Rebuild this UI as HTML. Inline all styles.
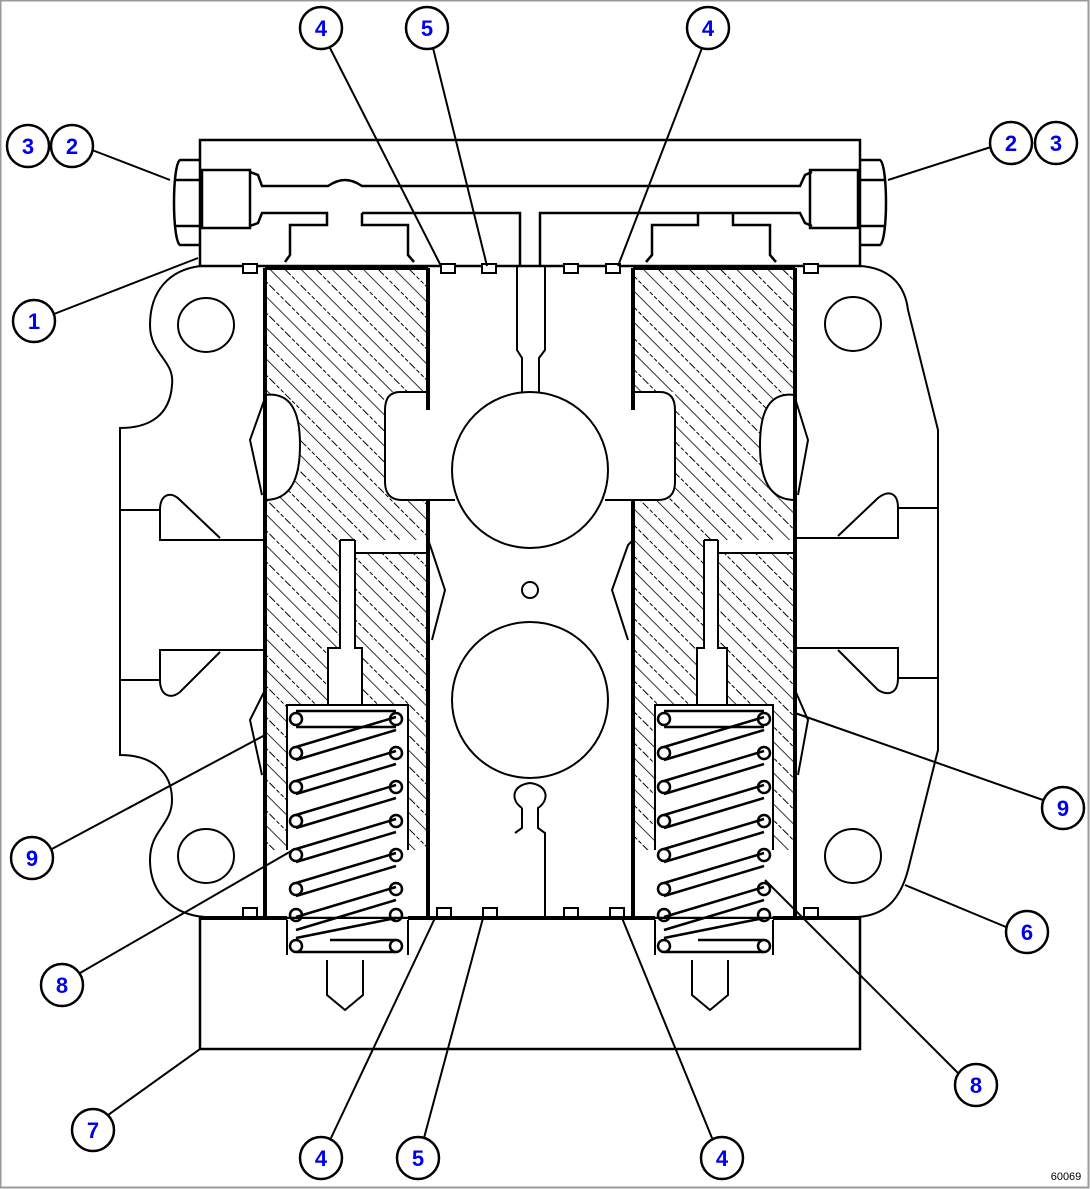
<!DOCTYPE html>
<html><head><meta charset="utf-8"><style>
html,body{margin:0;padding:0;background:#fff;}
svg{display:block;}
text{font-family:"Liberation Sans",sans-serif;font-weight:bold;font-size:22px;fill:#0000ee;text-anchor:middle;}
</style></head><body>
<svg width="1090" height="1189" viewBox="0 0 1090 1189" xmlns="http://www.w3.org/2000/svg">
<defs>
<pattern id="h" patternUnits="userSpaceOnUse" width="22" height="22" patternTransform="rotate(-45)">
<line x1="0" y1="0" x2="0" y2="22" stroke="#000" stroke-width="1.6"/>
<line x1="11" y1="0" x2="11" y2="22" stroke="#000" stroke-width="1" stroke-dasharray="4 2"/>
</pattern>
</defs>
<rect x="0.5" y="0.5" width="1088" height="1187" fill="#fff" stroke="#999" stroke-width="2"/>
<g fill="none" stroke="#000" stroke-width="2">
<path d="M200,266 C170,270 150,290 150,325 C150,355 175,360 172,385 C170,415 150,428 120,428 L120,755 C150,755 172,770 172,800 C172,825 150,830 150,860 C150,895 175,915 205,917"/>
<path d="M860,266 C890,268 905,285 908,310 L938,430 L938,750 L908,870 C900,900 885,915 858,917"/>
<ellipse cx="206" cy="325" rx="28" ry="27"/>
<ellipse cx="206" cy="856" rx="28" ry="27"/>
<ellipse cx="853" cy="324" rx="28" ry="27"/>
<ellipse cx="853" cy="856" rx="28" ry="27"/>
<path d="M120,510 L160,510 L160,540 L265,540 M160,510 C160,495 170,490 180,500 L220,538"/>
<path d="M120,680 L160,680 L160,650 L265,650 M160,680 C160,695 170,700 180,692 L220,652"/>
<path d="M938,508 L898,508 L898,538 L795,538 M898,508 C898,492 888,490 878,498 L838,536"/>
<path d="M938,678 L898,678 L898,648 L795,648 M898,678 C898,694 888,696 878,690 L838,650"/>
</g>
<g stroke="none" fill="url(#h)">
<path d="M265,268 L428,268 L428,850 L408,850 L408,705 L362,705 L362,648 L355,648 L355,553 L428,553 L428,540 L340,540 L340,648 L328,648 L328,705 L287,705 L287,850 L265,850 Z"/>
<path d="M633,268 L795,268 L795,850 L773,850 L773,705 L727,705 L727,648 L718,648 L718,553 L795,553 L795,540 L704,540 L704,648 L697,648 L697,705 L655,705 L655,850 L633,850 Z"/>
</g>
<g fill="#fff" stroke="none">
<path d="M265,395 C290,392 300,410 300,445 C300,480 290,500 265,500 Z"/>
<path d="M428,392 L385,392 L385,480 C385,495 390,500 400,500 L428,500 Z"/>
<path d="M795,395 C770,392 760,410 760,445 C760,480 770,500 795,500 Z"/>
<path d="M633,392 L675,392 L675,480 C675,495 670,500 660,500 L633,500 Z"/>
</g>
<g fill="none" stroke="#000" stroke-width="2">
<path d="M265,395 C290,392 300,410 300,445 C300,480 290,500 265,500"/>
<path d="M795,395 C770,392 760,410 760,445 C760,480 770,500 795,500"/>
<path d="M265,398 L250,440 L262,495"/>
<path d="M795,398 L808,440 L798,495"/>
<path d="M428,392 L400,392 C390,392 385,398 385,410 L385,482 C385,495 392,500 402,500 L455,500"/>
<path d="M633,392 L660,392 C670,392 675,398 675,410 L675,482 C675,495 668,500 658,500 L605,500"/>
<path d="M428,540 L430,545 L445,590 L432,640"/>
<path d="M633,540 L628,545 L612,590 L628,640"/>
<path d="M265,690 L250,720 L262,775 M795,690 L808,720 L798,775"/>
<path d="M340,540 L355,540 M340,540 L340,648 L328,648 L328,705 M355,540 L355,553 L428,553 M362,705 L362,648 L355,648 L355,553"/>
<path d="M704,540 L718,540 M704,540 L704,648 L697,648 L697,705 M718,540 L718,553 L795,553 M727,705 L727,648 L718,648 L718,553"/>
<circle cx="530" cy="470" r="78"/>
<circle cx="530" cy="700" r="78"/>
<circle cx="530" cy="590" r="8"/>
<path d="M517,266 L517,350 L522,358 L522,392 M545,266 L545,350 L539,358 L539,392"/>
<path d="M522,808 C510,800 512,785 530,783 C548,785 550,800 538,808 L538,828 L545,833 L545,918 M522,808 L522,828 L515,833"/>
<path d="M287,850 L287,705 L408,705 L408,850"/>
<path d="M655,850 L655,705 L773,705 L773,850"/>
</g>
<!-- plates -->
<g fill="#fff" stroke="#000" stroke-width="2.5">
<rect x="200" y="140" width="660" height="126"/>
<rect x="200" y="918" width="660" height="131"/>
</g>
<g fill="#fff" stroke="none">
<rect x="288" y="919" width="120" height="36"/>
<rect x="656" y="919" width="117" height="36"/>
</g>
<g fill="none" stroke="#000" stroke-width="2">
<path d="M287,920 L287,955 M408,920 L408,955 M655,920 L655,955 M773,920 L773,955"/>
<path d="M327,960 L327,995 L345,1010 L363,995 L363,960"/>
<path d="M692,960 L692,995 L710,1010 L728,995 L728,960"/>
</g>
<g stroke="#000" stroke-width="4" fill="none">
<path d="M265,268 L265,918 M428,268 L428,410 M428,500 L428,918 M633,268 L633,410 M633,500 L633,918 M795,268 L795,918"/>
<path d="M265,268 L428,268 M633,268 L795,268 M200,918 L287,918 M408,918 L655,918 M773,918 L860,918"/>
</g>
<g fill="none" stroke="#000" stroke-width="2.5">
<g id="sp">
<line x1="296" y1="711" x2="396" y2="711"/><line x1="296" y1="727" x2="396" y2="727"/>
<line x1="296" y1="747" x2="396" y2="717"/><line x1="296" y1="760" x2="396" y2="730"/>
<line x1="296" y1="781" x2="396" y2="751"/><line x1="296" y1="794" x2="396" y2="764"/>
<line x1="296" y1="815" x2="396" y2="785"/><line x1="296" y1="828" x2="396" y2="798"/>
<line x1="296" y1="849" x2="396" y2="819"/><line x1="296" y1="862" x2="396" y2="832"/>
<line x1="296" y1="883" x2="396" y2="853"/><line x1="296" y1="896" x2="396" y2="866"/>
<line x1="296" y1="917" x2="396" y2="887"/><line x1="296" y1="930" x2="396" y2="900"/>
<line x1="296" y1="938" x2="396" y2="918"/><line x1="296" y1="952" x2="396" y2="952"/>
<line x1="330" y1="940" x2="396" y2="940"/>
<circle cx="296" cy="719" r="6"/><circle cx="396" cy="719" r="6"/>
<circle cx="296" cy="753" r="6"/><circle cx="396" cy="753" r="6"/>
<circle cx="296" cy="787" r="6"/><circle cx="396" cy="787" r="6"/>
<circle cx="296" cy="821" r="6"/><circle cx="396" cy="821" r="6"/>
<circle cx="296" cy="855" r="6"/><circle cx="396" cy="855" r="6"/>
<circle cx="296" cy="889" r="6"/><circle cx="396" cy="889" r="6"/>
<circle cx="296" cy="915" r="6"/><circle cx="396" cy="915" r="6"/>
<circle cx="296" cy="946" r="6"/><circle cx="396" cy="946" r="6"/>
</g>
<use href="#sp" transform="translate(368,0)"/>
</g>
<g fill="none" stroke="#000" stroke-width="2.5">
<path d="M200,160 L180,160 C172,165 172,240 180,245 L200,245 M174,180 L200,180 M174,226 L200,226"/>
<rect x="202" y="170" width="48" height="58"/>
<path d="M250,172 L258,175 L262,186 L328,186 C340,178 350,178 362,186 L800,186 L805,175 L812,172"/>
<path d="M250,226 L258,223 L262,213 L327,213 L327,225 L290,225 L290,255 L285,262 M362,213 L362,225 L408,225 L408,255 L414,262 M362,213 L520,213 L520,266 M540,266 L540,213 L698,213 L698,225 L652,225 L652,255 L646,262 M698,213 L800,213 L805,223 L812,226 M733,213 L733,225 L770,225 L770,255 L776,262"/>
<path d="M860,160 L880,160 C888,165 888,240 880,245 L860,245 M886,180 L860,180 M886,226 L860,226"/>
<rect x="810" y="170" width="48" height="58"/>
</g>
<g fill="#fff" stroke="#000" stroke-width="2">
<rect x="243" y="264" width="14" height="9"/><rect x="441" y="264" width="14" height="9"/>
<rect x="482" y="264" width="14" height="9"/><rect x="564" y="264" width="14" height="9"/>
<rect x="606" y="264" width="14" height="9"/><rect x="804" y="264" width="14" height="9"/>
<rect x="243" y="908" width="14" height="9"/><rect x="437" y="908" width="14" height="9"/>
<rect x="483" y="908" width="14" height="9"/><rect x="564" y="908" width="14" height="9"/>
<rect x="610" y="908" width="14" height="9"/><rect x="804" y="908" width="14" height="9"/>
</g>
<g stroke="#000" stroke-width="2" fill="none">
<line x1="330" y1="48" x2="441" y2="266"/>
<line x1="433" y1="48" x2="487" y2="266"/>
<line x1="702" y1="48" x2="618" y2="266"/>
<line x1="92" y1="150" x2="170" y2="180"/>
<line x1="991" y1="147" x2="888" y2="180"/>
<line x1="54" y1="314" x2="198" y2="258"/>
<line x1="50" y1="850" x2="265" y2="735"/>
<line x1="1043" y1="800" x2="795" y2="713"/>
<line x1="80" y1="973" x2="293" y2="850"/>
<line x1="958" y1="1073" x2="765" y2="880"/>
<line x1="1006" y1="927" x2="905" y2="885"/>
<line x1="108" y1="1115" x2="200" y2="1049"/>
<line x1="331" y1="1138" x2="435" y2="918"/>
<line x1="424" y1="1138" x2="483" y2="918"/>
<line x1="712" y1="1138" x2="622" y2="918"/>
</g>
<g fill="#fff" stroke="#000" stroke-width="2.5">
<circle cx="321" cy="28" r="21"/><circle cx="427" cy="28" r="21"/><circle cx="708" cy="28" r="21"/>
<circle cx="28" cy="146" r="21"/><circle cx="72" cy="146" r="21"/>
<circle cx="1011" cy="143" r="21"/><circle cx="1056" cy="143" r="21"/>
<circle cx="34" cy="321" r="21"/><circle cx="32" cy="858" r="21"/><circle cx="1063" cy="808" r="21"/>
<circle cx="62" cy="985" r="21"/><circle cx="1027" cy="932" r="21"/><circle cx="976" cy="1085" r="21"/>
<circle cx="93" cy="1130" r="21"/><circle cx="321" cy="1158" r="21"/><circle cx="418" cy="1158" r="21"/><circle cx="722" cy="1158" r="21"/>
</g>
<g>
<text x="321" y="36">4</text><text x="427" y="36">5</text><text x="708" y="36">4</text>
<text x="28" y="154">3</text><text x="72" y="154">2</text>
<text x="1011" y="151">2</text><text x="1056" y="151">3</text>
<text x="34" y="329">1</text><text x="32" y="866">9</text><text x="1063" y="816">9</text>
<text x="62" y="993">8</text><text x="1027" y="940">6</text><text x="976" y="1093">8</text>
<text x="93" y="1138">7</text><text x="321" y="1166">4</text><text x="418" y="1166">5</text><text x="722" y="1166">4</text>
</g>
<text x="1066" y="1180" style="font-size:11px;font-weight:normal;fill:#000">60069</text>
</svg>
</body></html>
